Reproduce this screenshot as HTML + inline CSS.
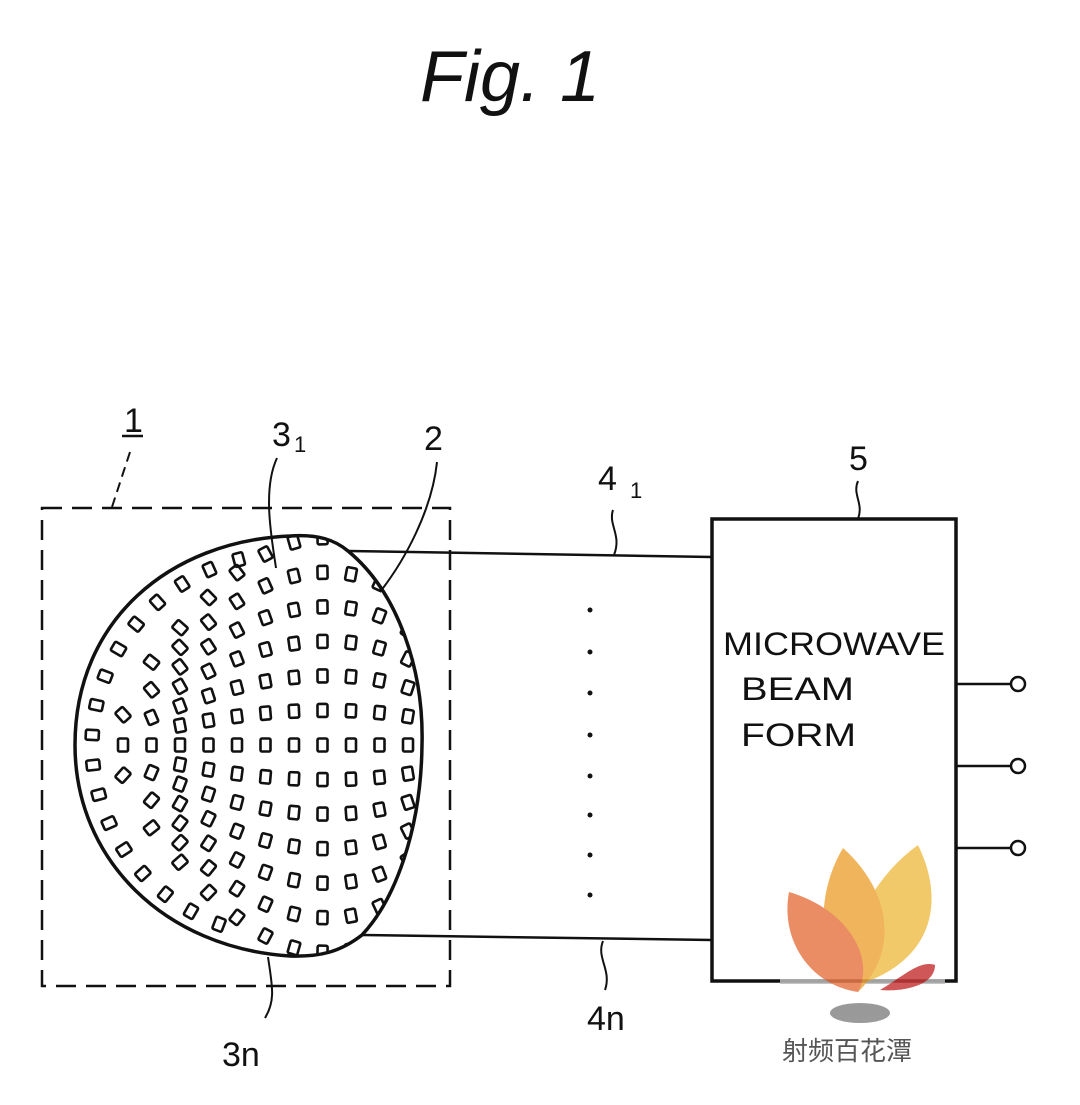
<!DOCTYPE html>
<html><head><meta charset="utf-8"><style>
html,body{margin:0;padding:0;background:#fff;}
svg{display:block;}
text{font-family:"Liberation Sans",sans-serif;fill:#111;}
</style></head><body>
<svg id="s" width="1080" height="1105" viewBox="0 0 1080 1105" xmlns="http://www.w3.org/2000/svg">
<defs>
<clipPath id="dc"><path d="M 290,536 C 318,534 335,540 348,551 C 398,592 424,670 422,745 C 421,830 395,900 362,935 C 340,952 320,957 290,956 C 165,948 75,860 75,745 C 75,620 170,541 290,536 Z"/></clipPath>
</defs>
<text x="420" y="101" font-size="72" font-style="italic">Fig. 1</text>

<rect x="42" y="508" width="408" height="478" fill="none" stroke="#111" stroke-width="2.5" stroke-dasharray="20,10"/>
<text x="124" y="432" font-size="34">1</text>
<line x1="122" y1="436" x2="143" y2="436" stroke="#111" stroke-width="2.5"/>
<path d="M 130,452 L 112,507" stroke="#111" stroke-width="2" stroke-dasharray="10,6" fill="none"/>

<g id="cells" clip-path="url(#dc)"></g>
<path d="M 290,536 C 318,534 335,540 348,551 C 398,592 424,670 422,745 C 421,830 395,900 362,935 C 340,952 320,957 290,956 C 165,948 75,860 75,745 C 75,620 170,541 290,536 Z" fill="none" stroke="#111" stroke-width="3.5"/>

<text x="272" y="446" font-size="34">3</text><text x="294" y="452" font-size="22">1</text>
<path d="M 277,458 C 262,490 272,540 276,568" stroke="#111" stroke-width="2" fill="none"/>
<text x="424" y="450" font-size="34">2</text>
<path d="M 437,462 C 432,510 405,560 380,592" stroke="#111" stroke-width="2" fill="none"/>

<line x1="348" y1="551" x2="712" y2="557" stroke="#111" stroke-width="2.5"/>
<line x1="362" y1="935" x2="712" y2="940" stroke="#111" stroke-width="2.5"/>
<text x="598" y="490" font-size="34">4</text><text x="630" y="498" font-size="22">1</text>
<path d="M 613,510 C 608,525 622,535 614,555" stroke="#111" stroke-width="2" fill="none"/>
<text x="587" y="1030" font-size="34">4n</text>
<path d="M 603,941 C 596,958 612,970 605,990" stroke="#111" stroke-width="2" fill="none"/>
<text x="222" y="1066" font-size="34">3n</text>
<path d="M 268,957 C 272,985 276,1000 265,1018" stroke="#111" stroke-width="2" fill="none"/>
<g fill="#111">
<circle cx="590" cy="610" r="2.5"/><circle cx="590" cy="652" r="2.5"/><circle cx="590" cy="693" r="2.5"/><circle cx="590" cy="735" r="2.5"/><circle cx="590" cy="776" r="2.5"/><circle cx="590" cy="815" r="2.5"/><circle cx="590" cy="855" r="2.5"/><circle cx="590" cy="895" r="2.5"/>
</g>

<rect x="712" y="519" width="244" height="462" fill="none" stroke="#111" stroke-width="3.5"/>
<text x="849" y="470" font-size="34">5</text>
<path d="M 858,481 C 852,495 864,503 858,519" stroke="#111" stroke-width="2" fill="none"/>
<text x="723" y="655" font-size="32" textLength="222" lengthAdjust="spacingAndGlyphs">MICROWAVE</text>
<text x="741" y="700" font-size="32" textLength="113" lengthAdjust="spacingAndGlyphs">BEAM</text>
<text x="741" y="746" font-size="32" textLength="115" lengthAdjust="spacingAndGlyphs">FORM</text>
<g stroke="#111" stroke-width="2.5" fill="#fff">
<line x1="956" y1="684" x2="1011" y2="684"/><circle cx="1018" cy="684" r="7"/>
<line x1="956" y1="766" x2="1011" y2="766"/><circle cx="1018" cy="766" r="7"/>
<line x1="956" y1="848" x2="1011" y2="848"/><circle cx="1018" cy="848" r="7"/>
</g>

<g opacity="0.85">
<rect x="780" y="979" width="165" height="5" fill="#bbb"/>
<path d="M 918,845 C 945,900 935,960 858,985 C 840,940 870,880 918,845 Z" fill="#f0c050"/>
<path d="M 843,848 C 890,890 900,950 858,992 C 815,960 815,895 843,848 Z" fill="#eda840"/>
<path d="M 789,892 C 850,910 875,960 858,992 C 810,985 780,940 789,892 Z" fill="#e77a4a"/>
<path d="M 880,990 C 905,975 920,960 935,965 C 935,985 905,992 880,990 Z" fill="#c83a3a"/>
<ellipse cx="860" cy="1013" rx="30" ry="10" fill="#888"/>
</g>
<text x="782" y="1060" font-size="26" style="font-family:'Liberation Sans','Noto Sans CJK SC',sans-serif;fill:#555">射频百花潭</text>
</svg>
<script>
(function(){
var g=document.getElementById('cells'),ns='http://www.w3.org/2000/svg';
function cell(X,Y,ang){
  var r=document.createElementNS(ns,'rect');
  r.setAttribute('x',X-5);r.setAttribute('y',Y-6.5);
  r.setAttribute('width',10);r.setAttribute('height',13);r.setAttribute('rx',1.5);
  r.setAttribute('fill','none');r.setAttribute('stroke','#111');r.setAttribute('stroke-width','2.6');
  r.setAttribute('transform','rotate('+ang+' '+X+' '+Y+')');
  g.appendChild(r);
}
function h(X){
  if(X<=325){return 185*Math.sin(Math.max(0,Math.min(1,(X-90)/235))*Math.PI/2);}
  var t=Math.max(0,(X-330)/140);return 185*Math.sqrt(Math.max(0,1-t*t));
}
for(var i=0;i<11;i++){
  var X=123+i*28.5;
  var hh=h(X)*1.12;
  var vs=hh/6;
  for(var j=-6;j<=6;j++){
    if(vs<15 && (j%2!==0))continue;
    if(vs<8 && j!==0 && Math.abs(j)!==4)continue;
    var Y=745+j/6*hh;
    var dh=(h(X+2)-h(X-2))*1.12/4;
    var ang=Math.atan(j/6*dh)*180/Math.PI;
    cell(X,Y,ang);
  }
}
// outer ring along left edge
for(var a=105;a<=255;a+=9){
  var t=a*Math.PI/180;
  var X=290+198*Math.cos(t),Y=745-192*Math.sin(t);
  if(X>250)continue;
  cell(X,Y,90-a);
}
})();
</script>
</body></html>
